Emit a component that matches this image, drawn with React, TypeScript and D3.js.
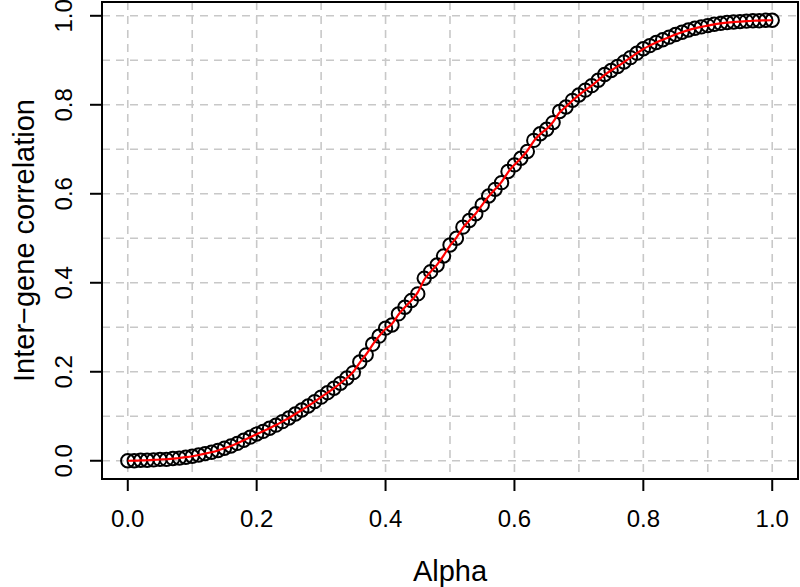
import React from "react";
import * as d3 from "d3";

// alpha steps 0.00 .. 1.00
const alphas: number[] = d3.range(0, 101).map(i => i / 100);

// inter-gene correlation, one value per alpha step
const correlation: number[] = [
  0.000, 0.000, 0.001, 0.001, 0.002, 0.003, 0.003, 0.005, 0.006, 0.008,
  0.010, 0.013, 0.016, 0.019, 0.023, 0.028, 0.033, 0.039, 0.046, 0.053,
  0.060, 0.066, 0.073, 0.080, 0.088, 0.096, 0.105, 0.114, 0.123, 0.133,
  0.143, 0.153, 0.163, 0.174, 0.186, 0.198, 0.222, 0.238, 0.262, 0.280,
  0.298, 0.305, 0.330, 0.345, 0.360, 0.375, 0.410, 0.425, 0.440, 0.460,
  0.485, 0.500, 0.525, 0.540, 0.555, 0.575, 0.595, 0.610, 0.625, 0.650,
  0.665, 0.680, 0.695, 0.720, 0.735, 0.745, 0.760, 0.785, 0.795, 0.810,
  0.822, 0.833, 0.843, 0.855, 0.868, 0.877, 0.886, 0.896, 0.906, 0.916,
  0.926, 0.933, 0.940, 0.946, 0.952, 0.958, 0.963, 0.968, 0.972, 0.975,
  0.978, 0.981, 0.983, 0.985, 0.986, 0.987, 0.988, 0.989, 0.989, 0.990,
  0.990,
];

const xTicks = [0, 0.2, 0.4, 0.6, 0.8, 1.0];
const yTicks = [0, 0.2, 0.4, 0.6, 0.8, 1.0];
const gridSteps = d3.range(0, 11).map(i => i / 10);

const W = 800;
const H = 587;
const FONT = "'Liberation Sans', Arial, Helvetica, sans-serif";

const App = () => {
  const left = 102, right = 798, top = 2, bottom = 479;

  const x = d3.scaleLinear().domain([-0.04, 1.04]).range([left, right]);
  const y = d3.scaleLinear().domain([-0.041, 1.031]).range([bottom, top]);

  const pts = alphas.map((a, i) => ({ a, v: correlation[i] }));

  const line = d3.line<{ a: number; v: number }>()
    .x(d => x(d.a))
    .y(d => y(d.v))
    .curve(d3.curveBasis);

  const grid = "#c8c8c8";

  return (
    <svg
      width={W}
      height={H}
      style={{ position: "absolute", left: 0, top: 0, background: "#fff" }}
      fontFamily={FONT}
    >
      <rect x={0} y={0} width={W} height={H} fill="#fff" />

      {/* dashed grid */}
      <g stroke={grid} strokeWidth={1.6} strokeDasharray="8,6">
        {gridSteps.map(g => (
          <line key={"gx" + g} x1={x(g)} x2={x(g)} y1={top} y2={bottom} />
        ))}
        {gridSteps.map(g => (
          <line key={"gy" + g} x1={left} x2={right} y1={y(g)} y2={y(g)} />
        ))}
      </g>

      {/* points */}
      <g fill="none" stroke="#000" strokeWidth={2}>
        {pts.map((d, i) => (
          <circle key={i} cx={x(d.a)} cy={y(d.v)} r={6.7} />
        ))}
      </g>

      {/* red line */}
      <path d={line(pts) || ""} fill="none" stroke="#f00" strokeWidth={2.2} />

      {/* box */}
      <rect x={left} y={top} width={right - left} height={bottom - top}
        fill="none" stroke="#000" strokeWidth={2} />

      {/* x axis */}
      <g>
        {xTicks.map(t => (
          <g key={"xt" + t}>
            <line x1={x(t)} x2={x(t)} y1={bottom} y2={bottom + 12} stroke="#000" strokeWidth={2} />
            <text x={x(t)} y={527} textAnchor="middle" fontSize={24}>{t.toFixed(1)}</text>
          </g>
        ))}
      </g>

      {/* y axis */}
      <g>
        {yTicks.map(t => (
          <g key={"yt" + t}>
            <line x1={left - 12} x2={left} y1={y(t)} y2={y(t)} stroke="#000" strokeWidth={2} />
            <text transform={`translate(72,${y(t)}) rotate(-90)`} textAnchor="middle" fontSize={24}>
              {t.toFixed(1)}
            </text>
          </g>
        ))}
      </g>

      {/* axis titles */}
      <text x={(left + right) / 2} y={581} textAnchor="middle" fontSize={29}>Alpha</text>
      <text transform={`translate(34,${(top + bottom) / 2}) rotate(-90)`} textAnchor="middle" fontSize={29}>
        Inter−gene correlation
      </text>
    </svg>
  );
};

export default App;
